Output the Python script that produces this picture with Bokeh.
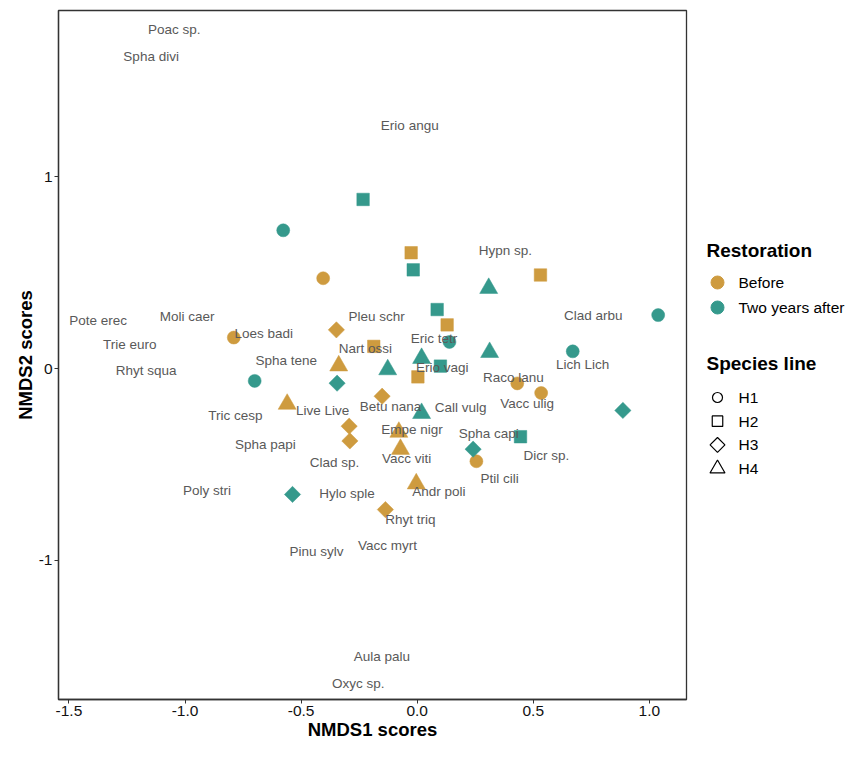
import math
from bokeh.plotting import figure
from bokeh.models import Range1d, FixedTicker
from bokeh.layouts import row
from bokeh.embed import file_html
from bokeh.resources import INLINE
from bokeh.core.properties import value

GOLD = "#CE9B3F"
TEAL = "#35998C"
FONT = "Liberation Sans"

# ---------------- data ----------------
restoration = ["Before", "Two years after"]
species_lines = ["H1", "H2", "H3", "H4"]

pt_group = (["Before"] * 20) + (["Two years after"] * 19)
pt_line = (["H1"] * 5 + ["H2"] * 5 + ["H3"] * 5 + ["H4"] * 5
           + ["H1"] * 5 + ["H2"] * 5 + ["H3"] * 4 + ["H4"] * 5)
pt_x = [-0.405, -0.790, 0.431, 0.534, 0.255,
        -0.026, 0.531, 0.129, -0.187, 0.003,
        -0.348, -0.151, -0.293, -0.290, -0.137,
        -0.338, -0.560, -0.079, -0.072, -0.004,
        -0.577, -0.700, 0.139, 0.670, 1.038,
        -0.233, -0.017, 0.086, 0.100, 0.445,
        -0.345, 0.886, 0.241, -0.537,
        0.308, 0.312, 0.019, -0.127, 0.019]
pt_y = [0.471, 0.162, -0.077, -0.127, -0.483,
        0.604, 0.488, 0.228, 0.116, -0.043,
        0.202, -0.144, -0.300, -0.377, -0.735,
        0.015, -0.185, -0.331, -0.420, -0.600,
        0.721, -0.064, 0.139, 0.090, 0.279,
        0.882, 0.515, 0.308, 0.013, -0.355,
        -0.076, -0.218, -0.420, -0.656,
        0.419, 0.085, 0.054, -0.005, -0.233]

species = ["Poac sp.", "Spha divi", "Erio angu", "Hypn sp.", "Pote erec",
           "Moli caer", "Trie euro", "Loes badi", "Pleu schr", "Nart ossi",
           "Spha tene", "Rhyt squa", "Tric cesp", "Live Live", "Spha papi",
           "Clad sp.", "Betu nana", "Call vulg", "Eric tetr", "Erio vagi",
           "Raco lanu", "Vacc ulig", "Clad arbu", "Lich Lich", "Empe nigr",
           "Spha capi", "Vacc viti", "Dicr sp.", "Ptil cili", "Andr poli",
           "Poly stri", "Hylo sple", "Rhyt triq", "Vacc myrt", "Pinu sylv",
           "Aula palu", "Oxyc sp."]
sp_x = [-1.046, -1.146, -0.032, 0.380, -1.374,
        -0.991, -1.238, -0.661, -0.175, -0.223,
        -0.564, -1.168, -0.783, -0.407, -0.654,
        -0.356, -0.115, 0.187, 0.072, 0.108,
        0.414, 0.474, 0.758, 0.713, -0.022,
        0.308, -0.046, 0.556, 0.355, 0.093,
        -0.905, -0.302, -0.029, -0.128, -0.434,
        -0.152, -0.254]
sp_y = [1.769, 1.629, 1.269, 0.618, 0.253,
        0.270, 0.125, 0.185, 0.274, 0.103,
        0.044, -0.012, -0.244, -0.218, -0.394,
        -0.488, -0.200, -0.204, 0.156, 0.008,
        -0.046, -0.183, 0.275, 0.022, -0.316,
        -0.338, -0.471, -0.452, -0.572, -0.642,
        -0.637, -0.650, -0.788, -0.923, -0.954,
        -1.503, -1.643]

x_ticks = [-1.5, -1.0, -0.5, 0.0, 0.5, 1.0]
x_tick_labels = ["-1.5", "-1.0", "-0.5", "0.0", "0.5", "1.0"]
y_ticks = [-1, 0, 1]
y_tick_labels = ["-1", "0", "1"]

# ---------------- styles ----------------
group_colors = {"Before": GOLD, "Two years after": TEAL}
line_markers = {"H1": ("circle", 13, 0.0),
                "H2": ("square", 12.5, 0.0),
                "H3": ("square", 11.5, math.pi / 4),
                "H4": ("triangle", 18, 0.0)}

# ---------------- main plot ----------------
MAIN_W, H = 688, 742
TOP = 10
p = figure(width=MAIN_W, height=H,
           x_range=Range1d(-1.545, 1.160), y_range=Range1d(-1.725, 1.867),
           toolbar_location=None, output_backend="svg",
           min_border_left=58, min_border_right=2, min_border_top=TOP,
           min_border_bottom=30, background_fill_color="white")
p.grid.visible = False
p.outline_line_color = "#333333"
p.outline_line_width = 1.3

for g in restoration:
    for l in species_lines:
        xs = [x for x, gg, ll in zip(pt_x, pt_group, pt_line) if gg == g and ll == l]
        ys = [y for y, gg, ll in zip(pt_y, pt_group, pt_line) if gg == g and ll == l]
        mk, sz, ang = line_markers[l]
        p.scatter(x=xs, y=ys, marker=mk, size=sz, angle=ang,
                  fill_color=group_colors[g], line_color=group_colors[g],
                  line_width=0.5)

p.text(x=sp_x, y=sp_y, text=species, text_align="center",
       text_baseline="middle", text_font=value(FONT),
       text_font_size="13.5px", text_color="#595959")

for ax, ticks, labels, title in ((p.xaxis[0], x_ticks, x_tick_labels, "NMDS1 scores"),
                                 (p.yaxis[0], y_ticks, y_tick_labels, "NMDS2 scores")):
    ax.ticker = FixedTicker(ticks=ticks)
    ax.major_label_overrides = {t: s for t, s in zip(ticks, labels)}
    ax.minor_tick_line_color = None
    ax.major_tick_in = 0
    ax.major_tick_out = 4
    ax.major_tick_line_color = "#333333"
    ax.axis_line_color = "#333333"
    ax.axis_line_width = 1.3
    ax.major_label_text_font = FONT
    ax.major_label_text_font_size = "15.5px"
    ax.major_label_text_color = "#111111"
    ax.major_label_standoff = 2
    ax.axis_label = title
    ax.axis_label_text_font = FONT
    ax.axis_label_text_font_size = "18.5px"
    ax.axis_label_text_font_style = "bold"
    ax.axis_label_text_color = "black"
    ax.axis_label_standoff = 0

# ---------------- legend panel ----------------
# The row aligns this panel's frame with the main frame, so map its
# y range onto page pixels of that frame.
LW = 846 - MAIN_W
FRAME_BOTTOM = 699
leg = figure(width=LW, height=H, x_range=Range1d(0, LW),
             y_range=Range1d(FRAME_BOTTOM, TOP),
             x_axis_location=None, y_axis_location=None, toolbar_location=None,
             output_backend="svg", min_border=0, outline_line_color=None)
leg.grid.visible = False

title_x, glyph_x, label_x = 18, 29, 50
rest_title_y, rest_y0, rest_dy = 250, 282, 25
sp_title_y, sp_y0, sp_dy = 363, 397, 23.7

leg.text(x=[title_x, title_x], y=[rest_title_y, sp_title_y],
         text=["Restoration", "Species line"], text_align="left",
         text_baseline="middle", text_font=value(FONT), text_font_size="19px",
         text_font_style="bold", text_color="black")

rest_ys = [rest_y0 + i * rest_dy for i in range(len(restoration))]
leg.scatter(x=[glyph_x] * len(restoration), y=rest_ys, marker="circle", size=13,
            fill_color=[group_colors[g] for g in restoration],
            line_color=[group_colors[g] for g in restoration])
leg.text(x=[label_x] * len(restoration), y=rest_ys, text=restoration,
         text_align="left", text_baseline="middle", text_font=value(FONT),
         text_font_size="15.5px", text_color="black")

legend_marker_sizes = {"H1": 10, "H2": 10.5, "H3": 10.5, "H4": 15}
sp_ys = [sp_y0 + i * sp_dy for i in range(len(species_lines))]
for l, yy in zip(species_lines, sp_ys):
    mk, _, ang = line_markers[l]
    leg.scatter(x=[glyph_x], y=[yy], marker=mk, size=legend_marker_sizes[l],
                angle=ang, fill_color=None, line_color="black", line_width=1.2)
leg.text(x=[label_x] * len(species_lines), y=sp_ys, text=species_lines,
         text_align="left", text_baseline="middle", text_font=value(FONT),
         text_font_size="15.5px", text_color="black")

layout = row(p, leg)
open("out.html", "w").write(file_html(layout, INLINE))
